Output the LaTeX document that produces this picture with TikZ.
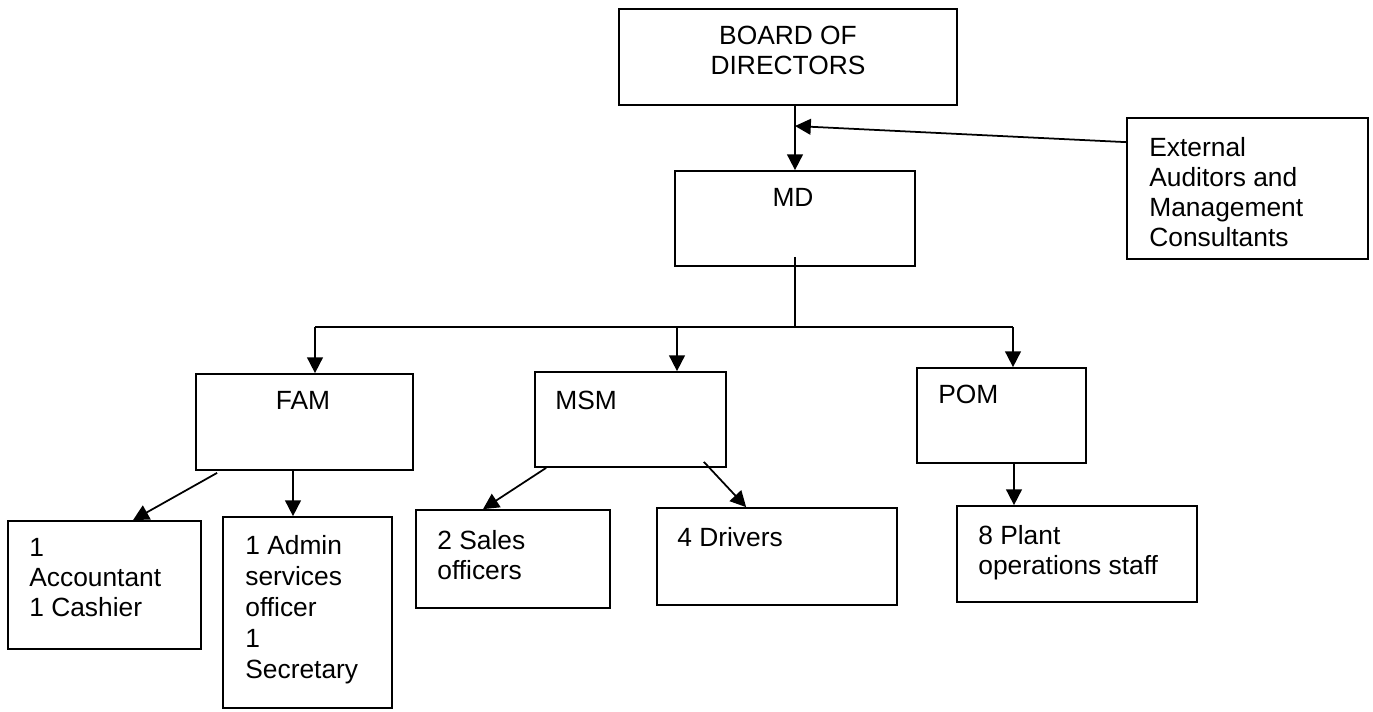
\documentclass[tikz,border=0pt]{standalone}
\usepackage{fontspec}
\setmainfont{Liberation Sans}
\usetikzlibrary{arrows.meta,calc}
\tikzset{
  box/.style={draw,line width=1pt,inner sep=0pt},
  txt/.style={inner sep=0pt,font=\fontsize{15}{17}\selectfont,align=left},
  arr/.style={line width=1pt,-{Triangle[length=9pt,width=9pt]}}
}
\begin{document}
\begin{tikzpicture}[x=0.02cm,y=-0.02cm]
	\useasboundingbox(0,0)rectangle(1373,711);
	\node[box,minimum width=6.76cm,minimum height=1.92cm](board)at(788,57){};
	\node[box,minimum width=4.8cm,minimum height=1.9cm](md)at(795,218.5){};
	\node[box,minimum width=4.82cm,minimum height=2.82cm](ext)at(1247.5,188.5){};
	\node[box,minimum width=4.34cm,minimum height=1.92cm](fam)at(304.5,422){};
	\node[box,minimum width=3.82cm,minimum height=1.9cm](msm)at(630.5,419.5){};
	\node[box,minimum width=3.38cm,minimum height=1.9cm](pom)at(1001.5,415.5){};
	\node[box,minimum width=3.86cm,minimum height=2.56cm](acc)at(104.5,585){};
	\node[box,minimum width=3.38cm,minimum height=3.82cm](adm)at(307.5,612.5){};
	\node[box,minimum width=3.88cm,minimum height=1.96cm](sales)at(513,559){};
	\node[box,minimum width=4.8cm,minimum height=1.94cm](drv)at(777,556.5){};
	\node[box,minimum width=4.8cm,minimum height=1.92cm](plant)at(1077,554){};
	\node[txt,align=center,anchor=north](boardt)at(788,26){BOARD OF\\DIRECTORS};
	\node[txt,anchor=north](mdt)at(793,188){MD};
	\node[txt,anchor=north west](extt)at(1149,137){External\\Auditors and\\Management\\Consultants};
	\node[txt,anchor=north](famt)at(303,391){FAM};
	\node[txt,anchor=north west](msmt)at(555,391){MSM};
	\node[txt,anchor=north west](pomt)at(938,385){POM};
	\node[txt,anchor=north west](acct)at(29,538){1\\Accountant\\1 Cashier};
	\node[txt,anchor=north west,font=\fontsize{15}{17.6}\selectfont](admt)at(245,535){1 Admin\\services\\officer\\1\\Secretary};
	\node[txt,anchor=north west](salest)at(437,530){2 Sales\\officers};
	\node[txt,anchor=north west](drvt)at(677,527){4 Drivers};
	\node[txt,anchor=north west](plantt)at(978,525){8 Plant\\operations staff};
	\coordinate(hit)at(795,126);
	\coordinate(bus)at(795,327);
	\coordinate(busL)at(315,327);
	\coordinate(busM)at(677,327);
	\coordinate(busR)at(1013,327);
	\coordinate(fa)at(293,470);
	\coordinate(pp)at(1014,463);
	\draw[arr](board.south-|md.north)--(md.north);
	\draw[arr]($(ext.north west)+(0,25)$)--(hit);
	\draw[line width=1pt]($(md.south)+(0,-10)$)--(bus) (busL)--(busR);
	\draw[arr](busL)--(busL|-fam.north);
	\draw[arr](busM)--(busM|-msm.north);
	\draw[arr](busR)--(busR|-pom.north);
	\draw[arr]($(fam.south west)+(22,2)$)--($(acc.north)+(28.5,0)$);
	\draw[arr](fa)--(fa|-adm.north);
	\draw[arr]($(msm.south west)+(12,0)$)--($(sales.north)+(-30,0)$);
	\draw[arr]($(msm.south east)+(-23,-6)$)--($(drv.north west)+(90,0)$);
	\draw[arr](pp)--(pp|-plant.north);
\end{tikzpicture}
\end{document}
